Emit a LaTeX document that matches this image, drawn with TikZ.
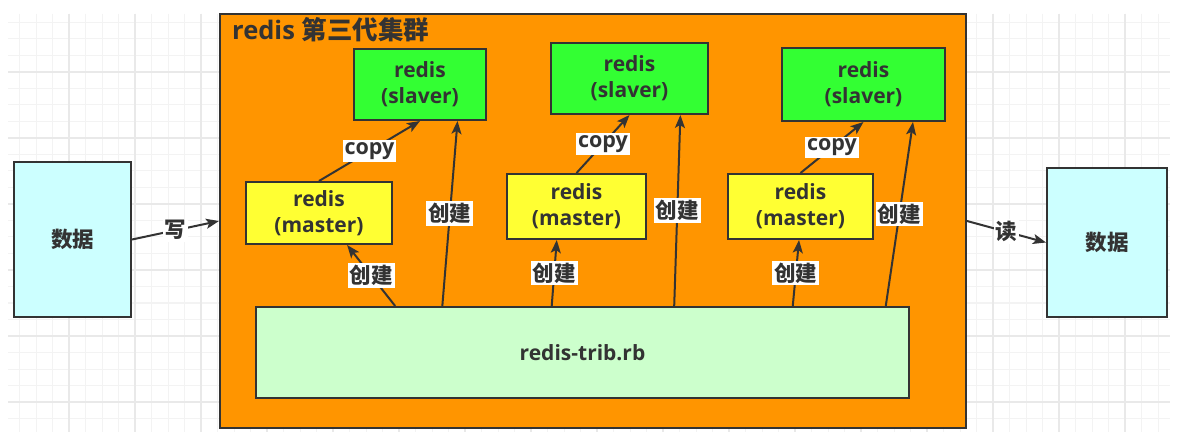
\documentclass[tikz,border=0pt]{standalone}
\usepackage{fontspec}
\setmainfont{Open Sans}
\newfontfamily\cjk{Noto Sans CJK SC}
\usetikzlibrary{calc,arrows.meta}
\definecolor{ink}{HTML}{333333}
\definecolor{orangebg}{HTML}{FF9500}
\definecolor{slv}{HTML}{33FF33}
\definecolor{mst}{HTML}{FFFF33}
\definecolor{trb}{HTML}{CCFFCC}
\definecolor{dat}{HTML}{CCFFFF}
\definecolor{gminor}{HTML}{F3F3F3}
\definecolor{gmajor}{HTML}{E9E9E9}
\tikzset{
  box/.style={draw=ink, line width=2pt, inner sep=0pt, text=ink, align=center,
    font=\bfseries\fontsize{21}{26}\selectfont},
  lbl/.style={fill=white, inner sep=2pt, text=ink,
    font=\bfseries\fontsize{21.5}{24}\selectfont},
  arr/.style={draw=ink, line width=2pt, -{Stealth[length=13pt,width=10pt,inset=3pt]}},
  minorline/.style={draw=gminor, line width=1pt},
  majorline/.style={draw=gmajor, line width=1.5pt}
}
\begin{document}
\begin{tikzpicture}[x=1pt,y=-1pt]
\useasboundingbox (0,0) rectangle (1191,438);
\fill[white] (0,0) rectangle (1191,438);
% grid
\begin{scope}
\clip (8,14) rectangle (1170,432);
\foreach \i in {0,...,71} {
  \draw[minorline] ({3+16.5*\i},14) -- ({3+16.5*\i},432);
}
\foreach \j in {0,...,26} {
  \draw[minorline] (8,{6+16.5*\j}) -- (1170,{6+16.5*\j});
}
\foreach \i in {0,...,18} {
  \draw[majorline] ({3+66*\i},14) -- ({3+66*\i},432);
}
\foreach \j in {0,...,6} {
  \draw[majorline] (8,{6+66*\j}) -- (1170,{6+66*\j});
}
\end{scope}
% nodes
\node[box, fill=dat, minimum width=117, minimum height=155, font=\bfseries\fontsize{21.5}{24}\selectfont] (data1) at (72.5,239.5) {\cjk 数据};
\node[box, fill=orangebg, minimum width=746, minimum height=414] (cluster) at (593,221) {};
\node[anchor=base west, text=ink, inner sep=0pt, font=\bfseries\fontsize{25.5}{28}\selectfont] (title) at (232,40) {redis {\cjk 第三代集群}};
\node[box, fill=dat, minimum width=120, minimum height=149, font=\bfseries\fontsize{21.5}{24}\selectfont] (data2) at (1107,242.5) {\cjk 数据};

\node[box, fill=slv, minimum width=132, minimum height=71] (s1) at (420,84.5) {redis\\(slaver)};
\node[box, fill=slv, minimum width=157, minimum height=71] (s2) at (629.5,78.5) {redis\\(slaver)};
\node[box, fill=slv, minimum width=163, minimum height=73] (s3) at (863.5,84.5) {redis\\(slaver)};

\node[box, fill=mst, minimum width=146, minimum height=62] (m1) at (319,213) {redis\\(master)};
\node[box, fill=mst, minimum width=139, minimum height=65] (m2) at (576.5,206.5) {redis\\(master)};
\node[box, fill=mst, minimum width=145, minimum height=65] (m3) at (800.5,206.5) {redis\\(master)};

\node[box, fill=trb, minimum width=653, minimum height=91] (trib) at (582.5,352.5) {redis-trib.rb};

% write / read
\draw[arr] (data1.east) -- node[lbl]{\cjk 写} (cluster.west);
\draw[arr] (cluster.east) -- node[lbl]{\cjk 读} (data2.west);

% copy
\draw[arr] (m1.north) -- node[lbl]{copy} (s1.south);
\draw[arr] (m2.north) -- node[lbl]{copy} (s2.south);
\draw[arr] (m3.north) -- node[lbl]{copy} (s3.south);

% create
\draw[arr] ($(trib.north west)!0.214!(trib.north east)$) -- node[lbl]{\cjk 创建} ($(m1.south west)!0.69!(m1.south east)$);
\draw[arr] ($(trib.north west)!0.286!(trib.north east)$) -- node[lbl]{\cjk 创建} ($(s1.south west)!0.78!(s1.south east)$);
\draw[arr] ($(trib.north west)!0.453!(trib.north east)$) -- node[lbl]{\cjk 创建} ($(m2.south west)!0.36!(m2.south east)$);
\draw[arr] ($(trib.north west)!0.640!(trib.north east)$) -- node[lbl]{\cjk 创建} ($(s2.south west)!0.82!(s2.south east)$);
\draw[arr] ($(trib.north west)!0.821!(trib.north east)$) -- node[lbl]{\cjk 创建} ($(m3.south west)!0.49!(m3.south east)$);
\draw[arr] ($(trib.north west)!0.963!(trib.north east)$) -- node[lbl]{\cjk 创建} ($(s3.south west)!0.80!(s3.south east)$);
\end{tikzpicture}
\end{document}
